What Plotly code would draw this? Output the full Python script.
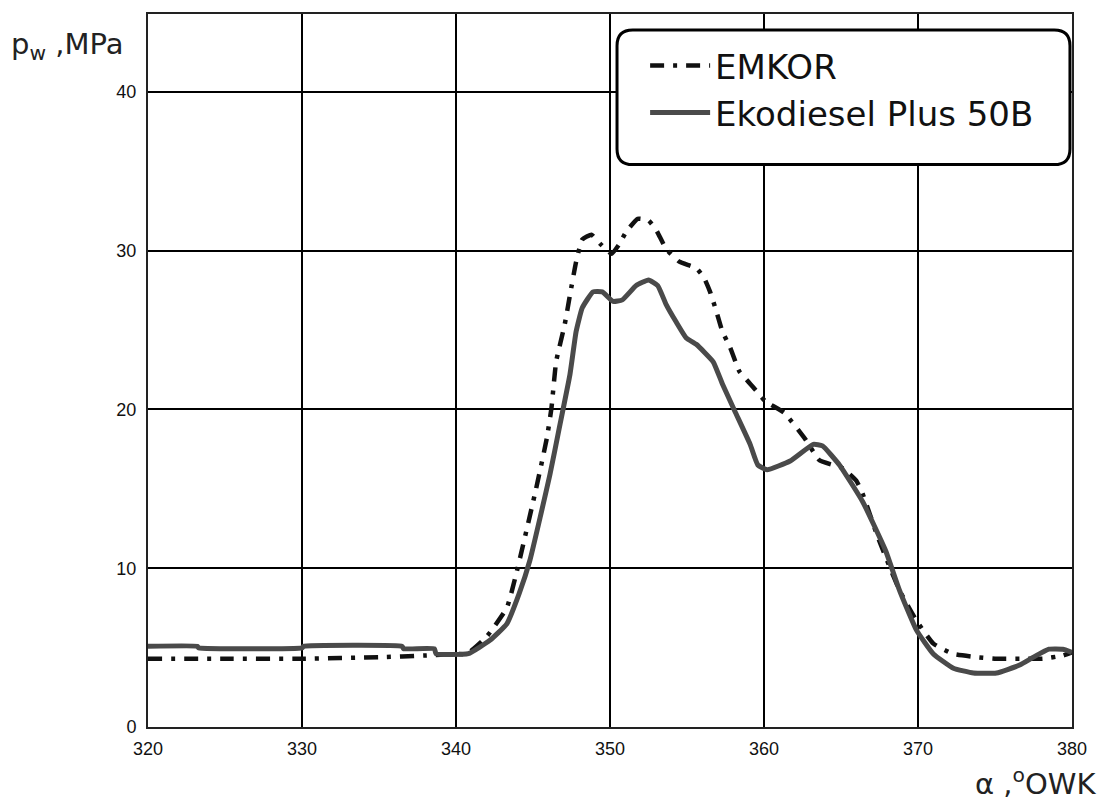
import plotly.graph_objects as go

# Crank angle [deg OWK] and cylinder pressure [MPa]
emkor_x = [320, 325, 330, 335, 338, 340, 340.7, 342.0, 343.3, 343.9, 345.2, 345.9, 346.2, 346.5,
           347.06, 347.4, 347.8, 348.2, 348.8, 349.4, 350.1, 350.6, 351.06, 351.8, 352.5, 353.0,
           353.65, 354.5, 355.6, 356.1, 356.5, 356.9, 357.3, 357.8, 358.4, 359.3, 360.1, 361.3,
           362.7, 363.6, 365.1, 366.0, 366.4, 367.3, 367.9, 368.8, 369.9, 371.0, 372.3, 373.8,
           375.1, 376.6, 378.1, 379.4, 380]
emkor_y = [4.3, 4.3, 4.3, 4.4, 4.5, 4.6, 4.6, 5.7, 7.5, 9.6, 15.0, 18.2, 20.1, 23.0,
           25.35, 27.2, 29.3, 30.7, 31.0, 30.4, 29.8, 30.4, 31.2, 32.0, 31.9, 31.3,
           30.1, 29.3, 28.9, 28.3, 27.4, 26.2, 24.9, 23.9, 22.4, 21.4, 20.5, 19.8,
           18.1, 16.8, 16.3, 15.5, 14.7, 12.2, 10.7, 8.6, 6.7, 5.25, 4.6, 4.4,
           4.3, 4.3, 4.3, 4.5, 4.7]

eko_x = [320, 323.2, 323.3, 330, 330.1, 336.5, 336.6, 338.6, 338.7, 340.8, 342.2, 343.3, 344.1,
         344.8, 346.1, 346.7, 347.4, 347.8, 348.2, 348.9, 349.5, 350.2, 350.8, 351.7, 352.5,
         353.1, 353.65, 354.3, 354.95, 355.6, 356.7, 357.3, 358.1, 359.1, 359.6, 360.2, 361.7,
         363.2, 363.8, 364.9, 366.4, 367.9, 368.8, 369.9, 371.0, 372.3, 373.6, 375.1, 376.6,
         377.5, 378.5, 379.4, 380]
eko_y = [5.08, 5.08, 4.98, 4.98, 5.08, 5.08, 4.93, 4.93, 4.62, 4.62, 5.46, 6.5, 8.4,
         10.5, 15.9, 18.8, 22.2, 24.9, 26.4, 27.4, 27.4, 26.8, 26.9, 27.8, 28.15,
         27.8, 26.6, 25.5, 24.5, 24.1, 23.0, 21.6, 19.9, 17.8, 16.5, 16.2, 16.75,
         17.8, 17.7, 16.5, 14.2, 11.1, 8.6, 6.1, 4.6, 3.7, 3.4, 3.4, 3.9,
         4.4, 4.9, 4.9, 4.7]

x_ticks = [320, 330, 340, 350, 360, 370, 380]
y_ticks = [0, 10, 20, 30, 40]

FONT = "Liberation Sans, Arial, sans-serif"
WIDE = "DejaVu Sans, Verdana, sans-serif"

fig = go.Figure()
fig.add_trace(go.Scatter(
    x=emkor_x, y=emkor_y, mode="lines", name="EMKOR",
    line=dict(color="#111111", width=4.5, dash="14px,9px,4px,9px", shape="spline", smoothing=0.4),
))
fig.add_trace(go.Scatter(
    x=eko_x, y=eko_y, mode="lines", name="Ekodiesel Plus 50B",
    line=dict(color="#4a4a4a", width=5, shape="spline", smoothing=0.4),
))

# Rounded legend frame (paper coordinates)
x0, x1, y0, y1 = 0.5076, 0.9978, 0.7888, 0.9776
rx, ry = 0.017, 0.022
path = (f"M{x0+rx},{y1} L{x1-rx},{y1} Q{x1},{y1} {x1},{y1-ry} "
        f"L{x1},{y0+ry} Q{x1},{y0} {x1-rx},{y0} L{x0+rx},{y0} "
        f"Q{x0},{y0} {x0},{y0+ry} L{x0},{y1-ry} Q{x0},{y1} {x0+rx},{y1} Z")
fig.add_shape(type="path", path=path, xref="paper", yref="paper",
              line=dict(color="black", width=3), fillcolor="white", layer="above")

fig.add_annotation(text="p<sub>w</sub> ,MPa", xref="paper", yref="paper",
                   x=-0.150, y=0.955, xanchor="left", yanchor="middle", showarrow=False,
                   font=dict(family=WIDE, size=29, color="#222"))
fig.add_annotation(text="α ,<sup>o</sup>OWK", xref="paper", yref="paper",
                   x=1.028, y=-0.077, xanchor="right", yanchor="middle", showarrow=False,
                   font=dict(family=WIDE, size=29, color="#222"))

axis_common = dict(showgrid=True, gridcolor="black", gridwidth=1.5,
                   showline=True, linecolor="#222", linewidth=2, mirror=True,
                   zeroline=False, ticks="", tickfont=dict(family=FONT, size=18, color="#111"))

fig.update_layout(
    width=1102, height=805,
    margin=dict(l=148, r=30, t=12, b=78),
    paper_bgcolor="white", plot_bgcolor="white",
    xaxis=dict(range=[320, 380], tickvals=x_ticks, ticklabelstandoff=4, **axis_common),
    yaxis=dict(range=[0, 44.9], tickvals=y_ticks, ticklabelstandoff=6, **axis_common),
    legend=dict(x=0.538, y=0.968, xanchor="left", yanchor="top",
                bgcolor="rgba(0,0,0,0)", borderwidth=0, tracegroupgap=0,
                font=dict(family=WIDE, size=34, color="#111"), itemwidth=60),
    showlegend=True,
)

fig.write_html("out.html")
